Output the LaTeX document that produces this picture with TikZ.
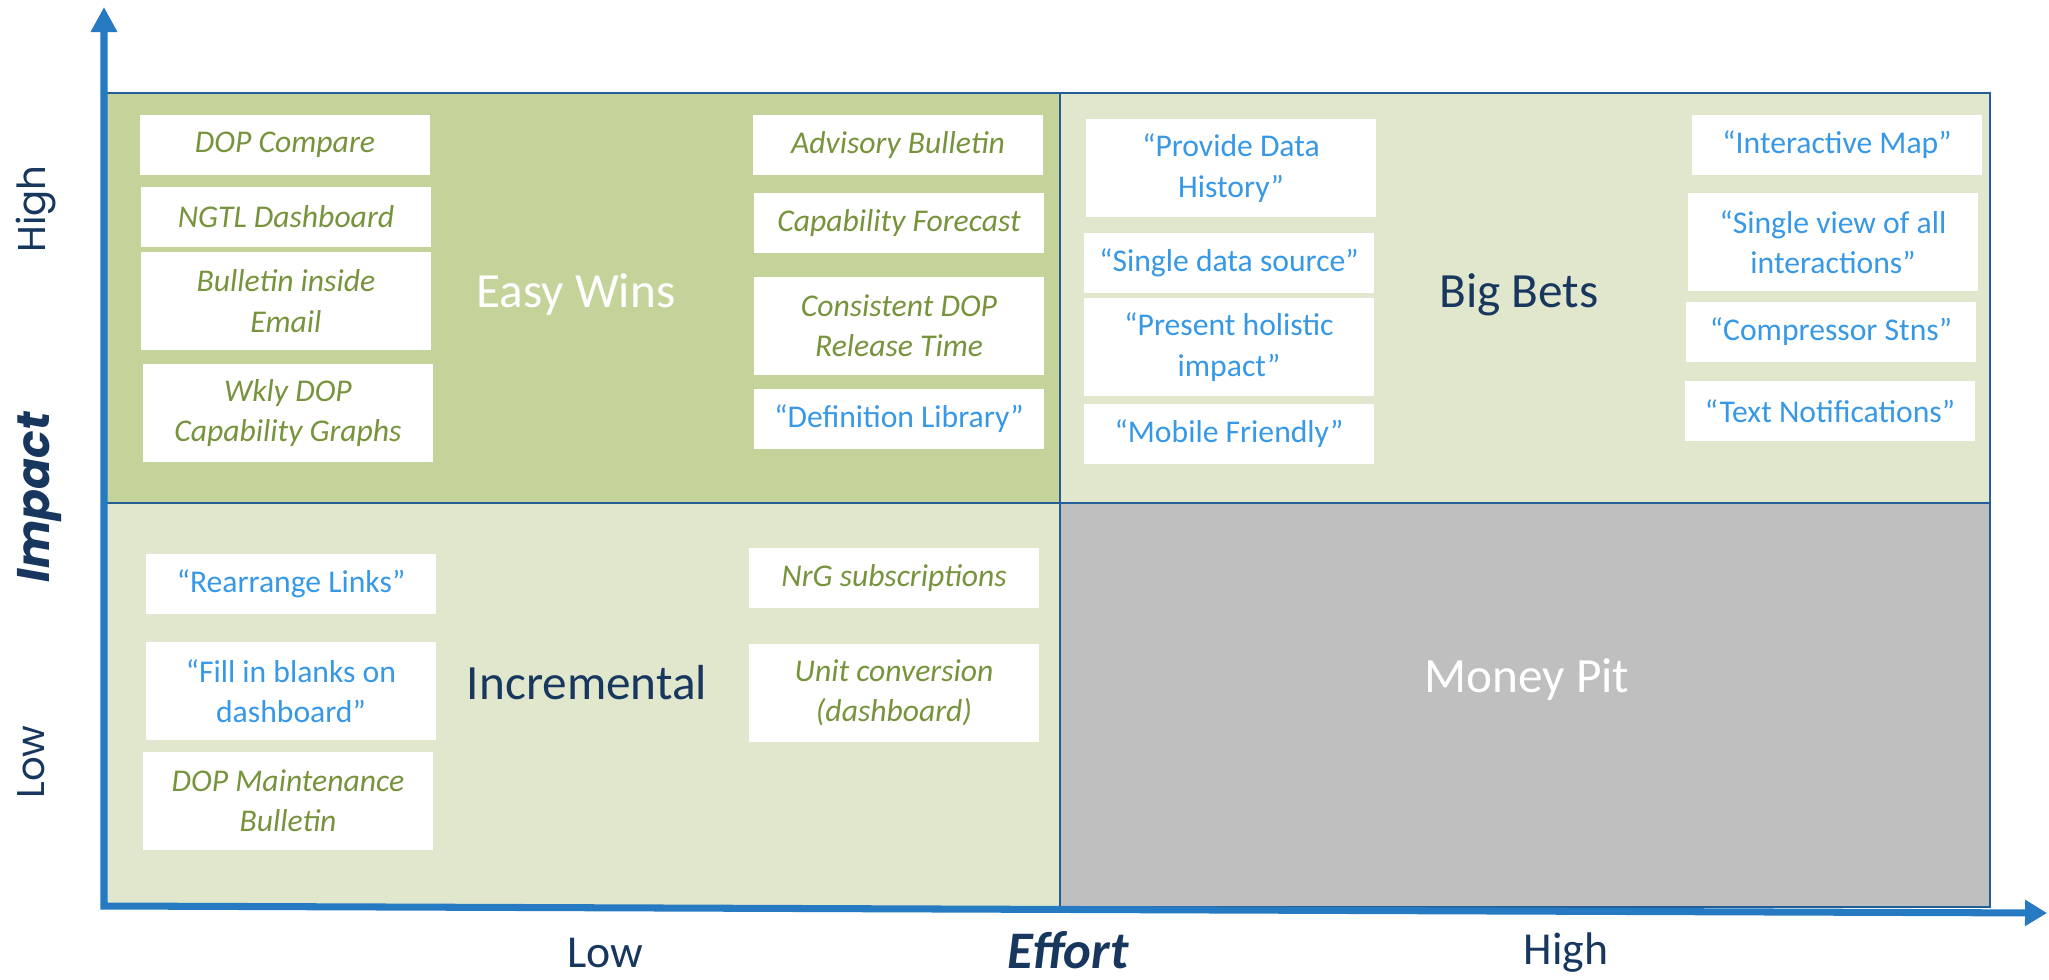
\documentclass[tikz,border=0pt]{standalone}
\usepackage{fontspec}
\setmainfont{Carlito}
\newfontfamily\gothicfont{Poppins}
\usetikzlibrary{arrows.meta}
\definecolor{easyFill}{RGB}{196,211,153}
\definecolor{paleFill}{RGB}{225,231,204}
\definecolor{pitFill}{RGB}{191,191,191}
\definecolor{gridBlue}{RGB}{36,94,150}
\definecolor{axisBlue}{RGB}{38,122,194}
\definecolor{oliveText}{RGB}{119,147,60}
\definecolor{quoteText}{RGB}{55,152,230}
\definecolor{navyText}{RGB}{23,55,94}
\tikzstyle{ideaSq} = [rectangle, fill=white, minimum width=2.9cm, minimum height=0.59cm, inner sep=0pt, align=center, font=\fontsize{9}{11.5}\selectfont]
\tikzstyle{ideaRec} = [ideaSq, minimum height=0.97cm]
\tikzstyle{oliveItem} = [text=oliveText, font=\fontsize{9}{11.5}\selectfont\itshape]
\tikzstyle{quoteItem} = [text=quoteText]
\tikzstyle{quadLabel} = [font=\fontsize{14}{16}\selectfont]
\tikzstyle{axisLabel} = [text=navyText, font=\fontsize{13}{15}\selectfont]
\tikzstyle{sideLabel} = [text=navyText, rotate=90, font=\gothicfont\fontsize{11}{13}\selectfont]
\tikzstyle{quadrant} = [draw=gridBlue, line width=0.8pt]
\tikzstyle{axisArrow} = [draw=axisBlue, line width=2pt, line join=miter, {Triangle[width=0.25cm,length=0.25cm]}-{Triangle[width=0.25cm,length=0.22cm]}]

\begin{document}
\begin{tikzpicture}[x=0.01cm, y=-0.01cm]
    \useasboundingbox (0,0) rectangle (2049,980);

    \filldraw[quadrant, fill=easyFill] (104,93) rectangle (1060,503);
    \filldraw[quadrant, fill=paleFill] (1060,93) rectangle (1990,503);
    \filldraw[quadrant, fill=paleFill] (104,503) rectangle (1060,907);
    \filldraw[quadrant, fill=pitFill] (1060,503) rectangle (1990,907);

    \node (EasyWins) [quadLabel, text=white] at (576,295) {Easy Wins};
    \node (BigBets) [quadLabel, text=navyText] at (1519,295) {Big Bets};
    \node (Incremental) [quadLabel, text=navyText] at (587,683) {Incremental};
    \node (MoneyPit) [quadLabel, text=white] at (1527,680) {Money Pit};

    \node (DopCompare) [ideaSq, oliveItem] at (285,145) {DOP Compare};
    \node (NgtlDash) [ideaSq, oliveItem] at (286,217) {NGTL Dashboard};
    \node (BulletinEmail) [ideaRec, oliveItem] at (286,301) {Bulletin inside\\Email};
    \node (WklyDop) [ideaRec, oliveItem] at (288,413) {Wkly DOP\\Capability Graphs};

    \node (Advisory) [ideaSq, oliveItem] at (898,145) {Advisory Bulletin};
    \node (CapForecast) [ideaSq, oliveItem] at (899,223) {Capability Forecast};
    \node (Consistent) [ideaRec, oliveItem] at (899,326) {Consistent DOP\\Release Time};
    \node (DefLibrary) [ideaSq, quoteItem] at (899,419) {“Definition Library”};

    \node (DataHistory) [ideaRec, quoteItem] at (1231,168) {“Provide Data\\History”};
    \node (SingleSource) [ideaSq, quoteItem] at (1229,263) {“Single data source”};
    \node (Holistic) [ideaRec, quoteItem] at (1229,347) {“Present holistic\\impact”};
    \node (Mobile) [ideaSq, quoteItem] at (1229,434) {“Mobile Friendly”};

    \node (InterMap) [ideaSq, quoteItem] at (1837,145) {“Interactive Map”};
    \node (SingleView) [ideaRec, quoteItem] at (1833,242) {“Single view of all\\interactions”};
    \node (Compressor) [ideaSq, quoteItem] at (1831,332) {“Compressor Stns”};
    \node (TextNotif) [ideaSq, quoteItem] at (1830,411) {“Text Notifications”};

    \node (Rearrange) [ideaSq, quoteItem] at (291,584) {“Rearrange Links”};
    \node (FillBlanks) [ideaRec, quoteItem] at (291,691) {“Fill in blanks on\\dashboard”};
    \node (Maintenance) [ideaRec, oliveItem] at (288,801) {DOP Maintenance\\Bulletin};

    \node (NrgSubs) [ideaSq, oliveItem] at (894,578) {NrG subscriptions};
    \node (UnitConv) [ideaRec, oliveItem] at (894,693) {Unit conversion\\(dashboard)};

    \coordinate (origin) at (104,906);
    \coordinate (yTip) at (104,7);
    \coordinate (xTip) at (2047,913);
    \draw[axisArrow] (yTip) -- (origin) -- (xTip);

    \node (EffortLow) [axisLabel] at (605,953) {Low};
    \node (Effort) [axisLabel, font=\fontsize{15}{17}\selectfont\bfseries\itshape] at (1068,950) {Effort};
    \node (EffortHigh) [axisLabel] at (1566,953) {High};

    \node (ImpactHigh) [sideLabel] at (36,209) {High};
    \node (Impact) [sideLabel, font=\gothicfont\fontsize{13}{15}\selectfont\bfseries\itshape] at (40,497) {Impact};
    \node (ImpactLow) [sideLabel] at (31,762) {Low};
\end{tikzpicture}
\end{document}
